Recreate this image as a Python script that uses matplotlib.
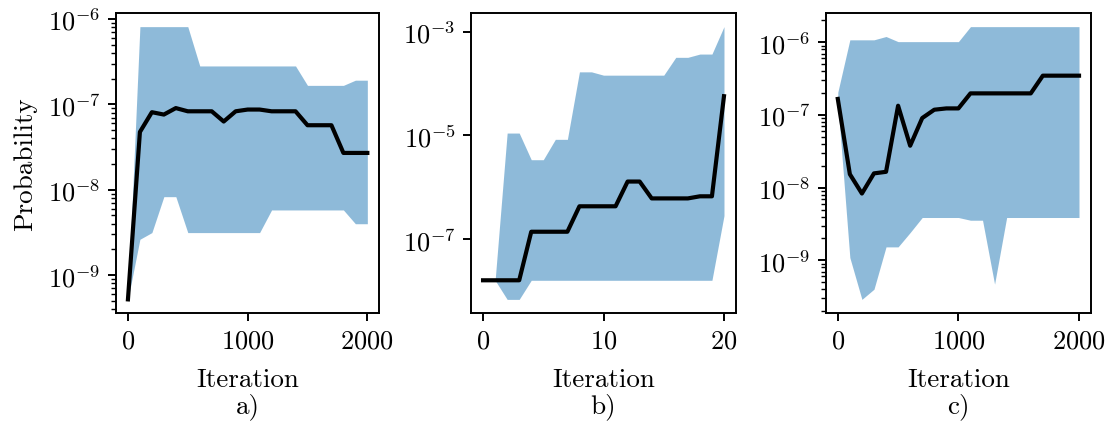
import matplotlib
matplotlib.use("Agg")
import matplotlib.pyplot as plt
from matplotlib.ticker import NullLocator

# Iteration grids
iters_a = [0, 100, 200, 300, 400, 500, 600, 700, 800, 900, 1000,
           1100, 1200, 1300, 1400, 1500, 1600, 1700, 1800, 1900, 2000]
iters_b = [0, 1, 2, 3, 4, 5, 6, 7, 8, 9, 10,
           11, 12, 13, 14, 15, 16, 17, 18, 19, 20]
iters_c = [0, 100, 200, 300, 400, 500, 600, 700, 800, 900, 1000,
           1100, 1200, 1300, 1400, 1500, 1600, 1700, 1800, 1900, 2000]

# a) probability: central curve and spread
mid_a = [5.2e-10, 4.75e-8, 8.1e-8, 7.6e-8, 9.05e-8, 8.3e-8, 8.3e-8, 8.3e-8,
         6.3e-8, 8.3e-8, 8.7e-8, 8.7e-8, 8.3e-8, 8.3e-8, 8.3e-8, 5.7e-8,
         5.7e-8, 5.7e-8, 2.7e-8, 2.7e-8, 2.7e-8]
hi_a = [5.2e-10, 8.14e-7, 8.14e-7, 8.14e-7, 8.14e-7, 8.14e-7, 2.82e-7, 2.82e-7,
        2.82e-7, 2.82e-7, 2.82e-7, 2.82e-7, 2.82e-7, 2.82e-7, 2.82e-7, 1.67e-7,
        1.67e-7, 1.67e-7, 1.67e-7, 1.92e-7, 1.92e-7]
lo_a = [5.2e-10, 2.63e-9, 3.15e-9, 8.3e-9, 8.3e-9, 3.15e-9, 3.15e-9, 3.15e-9,
        3.15e-9, 3.15e-9, 3.15e-9, 3.15e-9, 5.8e-9, 5.8e-9, 5.8e-9, 5.8e-9,
        5.8e-9, 5.8e-9, 5.8e-9, 4.0e-9, 4.0e-9]

# b) probability: central curve and spread
mid_b = [1.61e-8, 1.61e-8, 1.61e-8, 1.61e-8, 1.39e-7, 1.39e-7, 1.39e-7, 1.39e-7,
         4.3e-7, 4.3e-7, 4.3e-7, 4.3e-7, 1.29e-6, 1.29e-6, 6.1e-7, 6.1e-7,
         6.1e-7, 6.1e-7, 6.7e-7, 6.7e-7, 5.7e-5]
hi_b = [1.61e-8, 1.61e-8, 1.11e-5, 1.11e-5, 3.4e-6, 3.4e-6, 8.4e-6, 8.4e-6,
        1.68e-4, 1.68e-4, 1.45e-4, 1.45e-4, 1.45e-4, 1.45e-4, 1.45e-4, 1.45e-4,
        3.2e-4, 3.2e-4, 3.7e-4, 3.7e-4, 1.25e-3]
lo_b = [1.61e-8, 1.61e-8, 6.9e-9, 6.9e-9, 1.61e-8, 1.61e-8, 1.61e-8, 1.61e-8,
        1.61e-8, 1.61e-8, 1.61e-8, 1.61e-8, 1.61e-8, 1.61e-8, 1.61e-8, 1.61e-8,
        1.61e-8, 1.61e-8, 1.61e-8, 1.61e-8, 2.83e-7]

# c) probability: central curve and spread
mid_c = [1.66e-7, 1.53e-8, 8.3e-9, 1.57e-8, 1.65e-8, 1.34e-7, 3.77e-8, 9.06e-8,
         1.18e-7, 1.23e-7, 1.23e-7, 1.98e-7, 1.98e-7, 1.98e-7, 1.98e-7, 1.98e-7,
         1.98e-7, 3.47e-7, 3.47e-7, 3.47e-7, 3.47e-7]
hi_c = [2.05e-7, 1.08e-6, 1.08e-6, 1.08e-6, 1.2e-6, 1.02e-6, 1.02e-6, 1.02e-6,
        1.02e-6, 1.02e-6, 1.02e-6, 1.64e-6, 1.64e-6, 1.64e-6, 1.64e-6, 1.64e-6,
        1.64e-6, 1.64e-6, 1.64e-6, 1.64e-6, 1.64e-6]
lo_c = [1.5e-7, 1.09e-9, 2.9e-10, 4.0e-10, 1.53e-9, 1.53e-9, 2.41e-9, 3.88e-9,
        3.88e-9, 3.88e-9, 3.88e-9, 3.56e-9, 3.56e-9, 4.7e-10, 3.88e-9, 3.88e-9,
        3.88e-9, 3.88e-9, 3.88e-9, 3.88e-9, 3.88e-9]

panel_tags = ["a)", "b)", "c)"]
x_ticks = [[0, 1000, 2000], [0, 10, 20], [0, 1000, 2000]]

plt.rcParams.update({
    "font.family": "serif",
    "font.serif": ["cmr10"],
    "mathtext.fontset": "cm",
    "axes.formatter.use_mathtext": True,
    "axes.linewidth": 1.4,
})

fig = plt.figure(figsize=(11.13, 4.27), dpi=100)
lefts = [0.1042, 0.4232, 0.7419]
widths = [0.2366, 0.2381, 0.2384]

series = [(iters_a, mid_a, lo_a, hi_a),
          (iters_b, mid_b, lo_b, hi_b),
          (iters_c, mid_c, lo_c, hi_c)]

for i, (x, mid, lo, hi) in enumerate(series):
    ax = fig.add_axes([lefts[i], 0.2646, widths[i], 0.7026])
    ax.fill_between(x, lo, hi, color="#1f77b4", alpha=0.5, linewidth=0)
    ax.plot(x, mid, color="black", linewidth=3.0)
    ax.set_yscale("log")
    ax.set_xticks(x_ticks[i])
    ax.tick_params(which="major", length=6, width=1.4, labelsize=19, pad=5)
    ax.tick_params(which="minor", length=3.5, width=1.0)
    if i == 1:
        ax.yaxis.set_minor_locator(NullLocator())
    ax.set_xlabel("Iteration\n" + panel_tags[i], fontsize=19.5,
                  linespacing=1.05, labelpad=11)
    if i == 0:
        ax.set_ylabel("Probability", fontsize=19.5, labelpad=8)

fig.savefig("out.png", dpi=100)
